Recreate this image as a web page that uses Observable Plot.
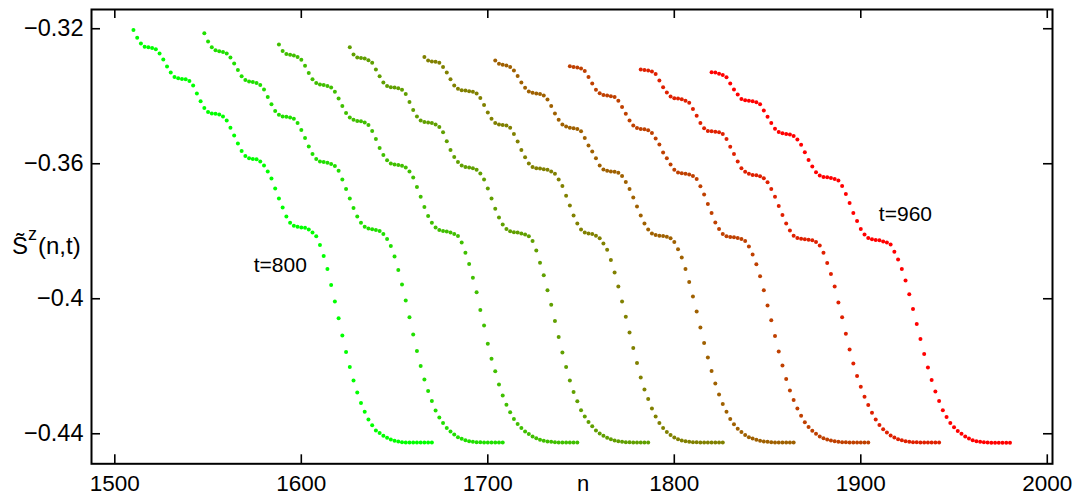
<!DOCTYPE html>
<html><head><meta charset="utf-8">
<script src="https://cdn.jsdelivr.net/npm/d3@7"></script>
<script src="https://cdn.jsdelivr.net/npm/@observablehq/plot@0.6"></script>
<style>html,body{margin:0;padding:0;background:#fff;}</style>
</head><body><div id="chart"></div>
<script>
// Series identifiers (time t) and first lattice site n of each profile
const tValues = [800, 820, 840, 860, 880, 900, 920, 940, 960];
const nStart = [1510, 1548, 1588, 1626, 1666, 1704, 1744, 1782, 1820];
const nStep = 2;

// S~z(n,t) values (81 sites each, n = nStart, nStart+2, ...)
const s800 = [-0.3204,-0.3227,-0.3244,-0.3253,-0.3255,-0.3257,-0.3261,-0.3273,-0.3291,-0.3312,
-0.3330,-0.3343,-0.3347,-0.3349,-0.3350,-0.3355,-0.3368,-0.3392,-0.3415,-0.3435,
-0.3447,-0.3451,-0.3452,-0.3454,-0.3460,-0.3472,-0.3493,-0.3516,-0.3540,-0.3562,
-0.3577,-0.3584,-0.3586,-0.3587,-0.3593,-0.3605,-0.3623,-0.3644,-0.3673,-0.3703,
-0.3730,-0.3756,-0.3775,-0.3784,-0.3787,-0.3789,-0.3790,-0.3795,-0.3804,-0.3815,
-0.3841,-0.3873,-0.3912,-0.3959,-0.4008,-0.4058,-0.4109,-0.4158,-0.4202,-0.4242,
-0.4278,-0.4309,-0.4335,-0.4358,-0.4375,-0.4390,-0.4398,-0.4406,-0.4412,-0.4417,
-0.4421,-0.4423,-0.4425,-0.4426,-0.4426,-0.4426,-0.4426,-0.4426,-0.4426,-0.4426,-0.4426];
const s820 = [-0.3213,-0.3238,-0.3255,-0.3264,-0.3267,-0.3269,-0.3273,-0.3285,-0.3303,-0.3322,
-0.3341,-0.3352,-0.3356,-0.3358,-0.3361,-0.3367,-0.3380,-0.3402,-0.3424,-0.3444,
-0.3455,-0.3460,-0.3461,-0.3463,-0.3467,-0.3479,-0.3500,-0.3524,-0.3549,-0.3571,
-0.3586,-0.3593,-0.3595,-0.3597,-0.3601,-0.3607,-0.3621,-0.3647,-0.3675,-0.3703,
-0.3731,-0.3756,-0.3775,-0.3787,-0.3792,-0.3794,-0.3796,-0.3799,-0.3808,-0.3823,
-0.3844,-0.3875,-0.3915,-0.3958,-0.4005,-0.4055,-0.4106,-0.4155,-0.4199,-0.4239,
-0.4273,-0.4303,-0.4331,-0.4352,-0.4368,-0.4383,-0.4393,-0.4402,-0.4410,-0.4415,
-0.4419,-0.4422,-0.4424,-0.4425,-0.4425,-0.4426,-0.4426,-0.4426,-0.4426,-0.4426,-0.4426];
const s840 = [-0.3247,-0.3266,-0.3275,-0.3277,-0.3279,-0.3284,-0.3292,-0.3310,-0.3331,-0.3350,
-0.3361,-0.3365,-0.3367,-0.3370,-0.3374,-0.3387,-0.3407,-0.3429,-0.3450,-0.3463,
-0.3470,-0.3473,-0.3474,-0.3478,-0.3485,-0.3503,-0.3527,-0.3553,-0.3574,-0.3590,
-0.3599,-0.3602,-0.3604,-0.3606,-0.3611,-0.3623,-0.3641,-0.3669,-0.3698,-0.3728,
-0.3755,-0.3775,-0.3789,-0.3796,-0.3799,-0.3801,-0.3804,-0.3808,-0.3814,-0.3833,
-0.3864,-0.3897,-0.3938,-0.3981,-0.4033,-0.4079,-0.4133,-0.4178,-0.4215,-0.4254,
-0.4287,-0.4314,-0.4336,-0.4356,-0.4371,-0.4383,-0.4393,-0.4401,-0.4408,-0.4413,
-0.4418,-0.4421,-0.4423,-0.4424,-0.4425,-0.4426,-0.4426,-0.4426,-0.4426,-0.4426,-0.4426];
const s860 = [-0.3255,-0.3276,-0.3285,-0.3287,-0.3288,-0.3293,-0.3301,-0.3321,-0.3341,-0.3359,
-0.3370,-0.3373,-0.3374,-0.3376,-0.3381,-0.3393,-0.3417,-0.3441,-0.3460,-0.3472,
-0.3476,-0.3478,-0.3479,-0.3484,-0.3491,-0.3507,-0.3533,-0.3559,-0.3580,-0.3595,
-0.3605,-0.3610,-0.3611,-0.3613,-0.3618,-0.3629,-0.3647,-0.3673,-0.3703,-0.3733,
-0.3759,-0.3780,-0.3793,-0.3800,-0.3803,-0.3804,-0.3807,-0.3810,-0.3815,-0.3829,
-0.3857,-0.3893,-0.3930,-0.3975,-0.4018,-0.4066,-0.4113,-0.4159,-0.4202,-0.4242,
-0.4276,-0.4304,-0.4330,-0.4349,-0.4365,-0.4378,-0.4390,-0.4399,-0.4406,-0.4412,
-0.4416,-0.4420,-0.4422,-0.4424,-0.4425,-0.4425,-0.4426,-0.4426,-0.4426,-0.4426,-0.4426];
const s880 = [-0.3284,-0.3294,-0.3297,-0.3298,-0.3301,-0.3313,-0.3330,-0.3350,-0.3368,-0.3378,
-0.3382,-0.3383,-0.3385,-0.3387,-0.3392,-0.3405,-0.3426,-0.3448,-0.3467,-0.3479,
-0.3484,-0.3485,-0.3487,-0.3493,-0.3512,-0.3534,-0.3559,-0.3581,-0.3599,-0.3610,
-0.3613,-0.3614,-0.3616,-0.3618,-0.3623,-0.3630,-0.3647,-0.3666,-0.3695,-0.3724,
-0.3753,-0.3777,-0.3795,-0.3804,-0.3807,-0.3808,-0.3813,-0.3821,-0.3836,-0.3855,
-0.3885,-0.3922,-0.3964,-0.4008,-0.4053,-0.4100,-0.4146,-0.4190,-0.4233,-0.4269,
-0.4297,-0.4325,-0.4349,-0.4368,-0.4383,-0.4395,-0.4404,-0.4411,-0.4416,-0.4420,
-0.4422,-0.4424,-0.4425,-0.4425,-0.4426,-0.4426,-0.4426,-0.4426,-0.4426,-0.4426,-0.4426];
const s900 = [-0.3294,-0.3304,-0.3307,-0.3309,-0.3313,-0.3324,-0.3340,-0.3359,-0.3375,-0.3386,
-0.3390,-0.3392,-0.3393,-0.3398,-0.3410,-0.3429,-0.3451,-0.3470,-0.3484,-0.3490,
-0.3493,-0.3495,-0.3497,-0.3504,-0.3524,-0.3546,-0.3564,-0.3584,-0.3605,-0.3617,
-0.3621,-0.3623,-0.3624,-0.3627,-0.3636,-0.3654,-0.3675,-0.3700,-0.3727,-0.3753,
-0.3777,-0.3795,-0.3807,-0.3811,-0.3813,-0.3814,-0.3816,-0.3821,-0.3832,-0.3853,
-0.3878,-0.3912,-0.3950,-0.3993,-0.4038,-0.4085,-0.4131,-0.4174,-0.4214,-0.4251,
-0.4284,-0.4312,-0.4335,-0.4356,-0.4372,-0.4385,-0.4395,-0.4404,-0.4410,-0.4414,
-0.4418,-0.4421,-0.4423,-0.4424,-0.4425,-0.4426,-0.4426,-0.4426,-0.4426,-0.4426,-0.4426];
const s920 = [-0.3311,-0.3313,-0.3315,-0.3318,-0.3325,-0.3343,-0.3362,-0.3381,-0.3391,-0.3396,
-0.3398,-0.3400,-0.3402,-0.3413,-0.3432,-0.3452,-0.3472,-0.3487,-0.3494,-0.3497,
-0.3498,-0.3501,-0.3509,-0.3525,-0.3543,-0.3567,-0.3584,-0.3602,-0.3618,-0.3626,
-0.3628,-0.3630,-0.3632,-0.3636,-0.3645,-0.3667,-0.3691,-0.3719,-0.3746,-0.3774,
-0.3793,-0.3808,-0.3815,-0.3817,-0.3818,-0.3820,-0.3823,-0.3829,-0.3845,-0.3869,
-0.3898,-0.3933,-0.3975,-0.4020,-0.4064,-0.4110,-0.4156,-0.4198,-0.4238,-0.4272,
-0.4300,-0.4325,-0.4347,-0.4366,-0.4380,-0.4391,-0.4400,-0.4408,-0.4413,-0.4417,
-0.4420,-0.4422,-0.4424,-0.4425,-0.4425,-0.4426,-0.4426,-0.4426,-0.4426,-0.4426,-0.4426];
const s940 = [-0.3321,-0.3322,-0.3324,-0.3327,-0.3334,-0.3353,-0.3373,-0.3389,-0.3401,-0.3406,
-0.3407,-0.3409,-0.3413,-0.3419,-0.3438,-0.3458,-0.3479,-0.3495,-0.3503,-0.3504,
-0.3505,-0.3507,-0.3512,-0.3527,-0.3550,-0.3571,-0.3593,-0.3613,-0.3624,-0.3630,
-0.3633,-0.3634,-0.3637,-0.3643,-0.3655,-0.3675,-0.3698,-0.3725,-0.3752,-0.3777,
-0.3798,-0.3813,-0.3820,-0.3822,-0.3824,-0.3825,-0.3827,-0.3832,-0.3842,-0.3864,
-0.3894,-0.3927,-0.3964,-0.4011,-0.4055,-0.4104,-0.4150,-0.4192,-0.4229,-0.4261,
-0.4290,-0.4315,-0.4338,-0.4358,-0.4374,-0.4387,-0.4396,-0.4405,-0.4411,-0.4416,
-0.4419,-0.4422,-0.4424,-0.4425,-0.4425,-0.4426,-0.4426,-0.4426,-0.4426,-0.4426,-0.4426];
const s960 = [-0.3329,-0.3330,-0.3333,-0.3337,-0.3344,-0.3362,-0.3380,-0.3395,-0.3408,-0.3412,
-0.3413,-0.3415,-0.3418,-0.3424,-0.3442,-0.3461,-0.3479,-0.3496,-0.3506,-0.3510,
-0.3512,-0.3513,-0.3518,-0.3528,-0.3544,-0.3566,-0.3589,-0.3608,-0.3625,-0.3635,
-0.3639,-0.3640,-0.3642,-0.3645,-0.3650,-0.3666,-0.3690,-0.3716,-0.3746,-0.3770,
-0.3793,-0.3810,-0.3820,-0.3824,-0.3826,-0.3827,-0.3830,-0.3833,-0.3839,-0.3861,
-0.3884,-0.3912,-0.3946,-0.3987,-0.4030,-0.4075,-0.4119,-0.4164,-0.4204,-0.4241,
-0.4275,-0.4303,-0.4330,-0.4350,-0.4368,-0.4381,-0.4392,-0.4400,-0.4408,-0.4414,
-0.4419,-0.4422,-0.4424,-0.4425,-0.4426,-0.4427,-0.4427,-0.4427,-0.4427,-0.4427,-0.4427];

// Axes
const xTicks = [1500, 1600, 1700, 1800, 1900, 2000];
const xTickLabels = ["1500", "1600", "1700", "1800", "1900", "2000"];
const yTicks = [-0.32, -0.36, -0.40, -0.44];
const yTickLabels = ["\u22120.32", "\u22120.36", "\u22120.4", "\u22120.44"];
const xDomain = [1487.5, 2002.8];
const yDomain = [-0.4489, -0.3143];

// Styling
const seriesColors = ["#00ff00", "#20df00", "#40bf00", "#609f00", "#808000", "#9f6000", "#bf4000", "#df2000", "#ff0000"];

// Annotations (data coordinates)
const annotations = [
  {label: "t=800", n: 1574.5, v: -0.3901},
  {label: "t=960", n: 1909.7, v: -0.3751}
];

const seriesList = [s800, s820, s840, s860, s880, s900, s920, s940, s960];
const points = [];
seriesList.forEach((vals, k) => vals.forEach((v, i) => points.push({t: tValues[k], n: nStart[k] + nStep * i, v})));

const W = 1076, H = 495;
const mL = 91, mR = 24, mT = 9, mB = 31.7;
const fw = W - mL - mR, fh = H - mT - mB;
const tick = 9;
const xLab = new Map(xTicks.map((d, i) => [d, xTickLabels[i]]));
const yLab = new Map(yTicks.map((d, i) => [d, yTickLabels[i]]));

const chart = Plot.plot({
  width: W, height: H,
  marginLeft: mL, marginRight: mR, marginTop: mT, marginBottom: mB,
  style: {fontFamily: "'Liberation Sans', Arial, Helvetica, sans-serif", fontSize: "24px", background: "#fff", color: "#000"},
  x: {domain: xDomain, label: null},
  y: {domain: yDomain, label: null},
  color: {type: "ordinal", domain: tValues, range: seriesColors},
  marks: [
    Plot.dot(points, {x: "n", y: "v", fill: "t", r: 2, stroke: "none"}),
    Plot.text(annotations, {x: "n", y: "v", text: "label", textAnchor: "start", fontSize: 21, fill: "#000"}),
    Plot.axisX(xTicks, {anchor: "bottom", tickSize: 0, tickPadding: 11, fontSize: 22.5, tickFormat: d => xLab.get(d), label: null}),
    Plot.axisY(yTicks, {anchor: "left", tickSize: 0, tickPadding: 8, fontSize: 23.5, tickFormat: d => yLab.get(d), label: null}),
    Plot.ruleX(xTicks, {stroke: "#000", strokeWidth: 1.6, insetTop: fh - tick}),
    Plot.ruleX(xTicks, {stroke: "#000", strokeWidth: 1.6, insetBottom: fh - tick}),
    Plot.ruleY(yTicks, {stroke: "#000", strokeWidth: 1.6, insetRight: fw - tick}),
    Plot.ruleY(yTicks, {stroke: "#000", strokeWidth: 1.6, insetLeft: fw - tick}),
    Plot.text(["n"], {frameAnchor: "bottom", lineAnchor: "middle", text: d => d, dx: 11, dy: 20, fontSize: 22, fill: "#000"}),
    Plot.frame({stroke: "#000", strokeWidth: 2})
  ]
});

const svg = d3.select(chart);
const ylab = svg.append("text")
  .attr("x", 12).attr("y", 254)
  .attr("text-anchor", "start")
  .attr("font-size", 24).attr("fill", "#000");
ylab.append("tspan").text("S\u0303");
ylab.append("tspan").attr("dy", -14).attr("font-size", 18).text("z");
ylab.append("tspan").attr("dy", 14).attr("dx", 1).text("(n,t)");

document.getElementById("chart").appendChild(chart);
</script>
</body></html>
